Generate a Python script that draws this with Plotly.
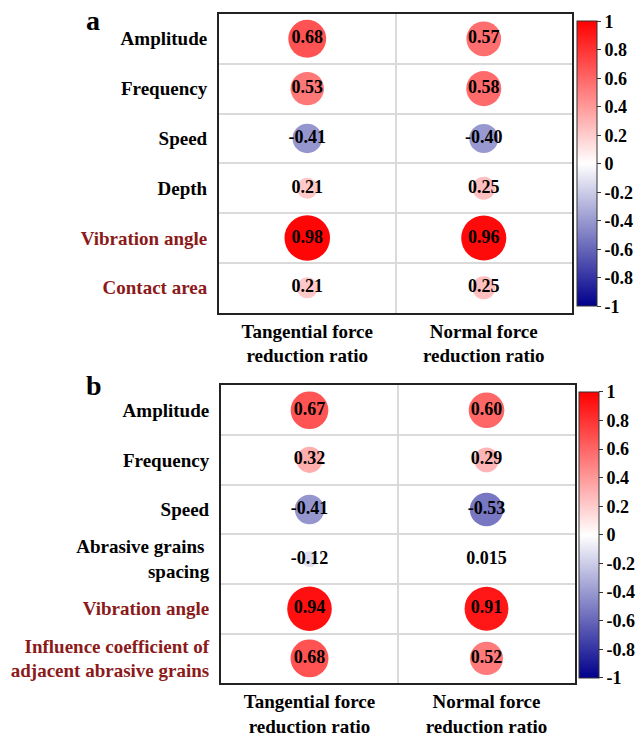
import plotly.graph_objects as go

W, H = 641, 737

# ---------------- data ----------------
columns = ["Tangential force<br>reduction ratio", "Normal force<br>reduction ratio"]

rows_a = ["Amplitude", "Frequency", "Speed", "Depth", "Vibration angle", "Contact area"]
tangential_a = [0.68, 0.53, -0.41, 0.21, 0.98, 0.21]
normal_a = [0.57, 0.58, -0.40, 0.25, 0.96, 0.25]
highlight_a = [False, False, False, False, True, True]

rows_b = ["Amplitude", "Frequency", "Speed", "Abrasive grains <br>spacing",
          "Vibration angle", "Influence coefficient of<br>adjacent abrasive grains"]
tangential_b = [0.67, 0.32, -0.41, -0.12, 0.94, 0.68]
normal_b = [0.60, 0.29, -0.53, 0.015, 0.91, 0.52]
highlight_b = [False, False, False, False, True, True]

cbar_ticks = [1, 0.8, 0.6, 0.4, 0.2, 0, -0.2, -0.4, -0.6, -0.8, -1]

# ---------------- style ----------------
FONT = "Liberation Serif"
DARKRED = "#8B1A1A"
SCALE = [[0.0, "#00008B"], [0.5, "#FFFFFF"], [1.0, "#FF0000"]]
DMAX = 46  # diameter (px) of |r| = 1


def fmt(v):
    return f"{v:.2f}" if abs(v) >= 0.1 else f"{v:g}"


fig = go.Figure()

panels = [
    dict(rows=rows_a, series=[tangential_a, normal_a], hl=highlight_a, xa="x", ya="y", ca="coloraxis",
         xdom=[219 / W, 572 / W], ydom=[1 - 314 / H, 1 - 14 / H],
         cb=dict(x=577 / W, y=1 - 164.5 / H, len=285)),
    dict(rows=rows_b, series=[tangential_b, normal_b], hl=highlight_b, xa="x2", ya="y2", ca="coloraxis2",
         xdom=[221 / W, 575 / W], ydom=[1 - 686 / H, 1 - 387 / H],
         cb=dict(x=579 / W, y=1 - 537 / H, len=286)),
]

layout = dict(width=W, height=H, margin=dict(l=0, r=0, t=0, b=0),
              plot_bgcolor="white", paper_bgcolor="white", showlegend=False,
              font=dict(family=FONT, color="black"))

for i, p in enumerate(panels):
    xs, ys, vals = [], [], []
    for ci, ser in enumerate(p["series"]):
        for ri, v in enumerate(ser):
            xs.append(ci)
            ys.append(ri)
            vals.append(v)
    fig.add_trace(go.Scatter(
        x=xs, y=ys, xaxis=p["xa"], yaxis=p["ya"],
        mode="markers+text",
        marker=dict(size=[DMAX * abs(v) ** 0.5 for v in vals], sizemode="diameter",
                    color=vals, coloraxis=p["ca"], line=dict(width=0), opacity=1),
        text=[fmt(v) for v in vals], textposition="middle center",
        textfont=dict(family=FONT, size=18, color="black", weight="bold"),
        hoverinfo="skip", cliponaxis=False,
    ))
    sfx = "" if i == 0 else "2"
    ticktext_y = [
        (f"<span style='color:{DARKRED}'>{r}</span>" if h else r)
        for r, h in zip(p["rows"], p["hl"])
    ]
    layout["xaxis" + sfx] = dict(
        domain=p["xdom"], anchor="y" + sfx, range=[-0.5, 1.5],
        tickvals=[0, 1], ticktext=columns, ticks="", showgrid=False, zeroline=False,
        showline=True, mirror=True, linecolor="#222222", linewidth=2,
        tickfont=dict(family=FONT, size=19, color="black", weight="bold"),
        ticklabelstandoff=0,
        minor=dict(tick0=0.5, dtick=1, showgrid=True, gridcolor="#DADADA", gridwidth=1.5, ticks=""),
    )
    layout["yaxis" + sfx] = dict(
        domain=p["ydom"], anchor="x" + sfx, range=[5.5, -0.5],
        tickvals=list(range(len(p["rows"]))), ticktext=ticktext_y, ticks="",
        showgrid=False, zeroline=False,
        showline=True, mirror=True, linecolor="#222222", linewidth=2,
        tickfont=dict(family=FONT, size=19, color="black", weight="bold"),
        ticklabelstandoff=6,
        minor=dict(tick0=0.5, dtick=1, showgrid=True, gridcolor="#DADADA", gridwidth=1.5, ticks=""),
    )
    layout[p["ca"]] = dict(
        cmin=-1, cmax=1, colorscale=SCALE,
        colorbar=dict(
            x=p["cb"]["x"], xanchor="left", y=p["cb"]["y"], yanchor="middle",
            len=p["cb"]["len"], lenmode="pixels", thickness=20, thicknessmode="pixels",
            outlinecolor="#333333", outlinewidth=1,
            tickvals=cbar_ticks, ticktext=[f"{t:g}" for t in cbar_ticks],
            ticks="outside", ticklen=4, tickcolor="#333333",
            tickfont=dict(family=FONT, size=18, color="black", weight="bold"),
            xpad=0, ypad=0,
        ),
    )

fig.update_layout(**layout)

fig.add_annotation(text="a", x=84 / W, y=1 - 3 / H, xref="paper", yref="paper",
                   xanchor="left", yanchor="top", showarrow=False,
                   font=dict(family=FONT, size=28, color="black", weight="bold"))
fig.add_annotation(text="b", x=84 / W, y=1 - 370 / H, xref="paper", yref="paper",
                   xanchor="left", yanchor="top", showarrow=False,
                   font=dict(family=FONT, size=28, color="black", weight="bold"))

fig.write_html("out.html")
